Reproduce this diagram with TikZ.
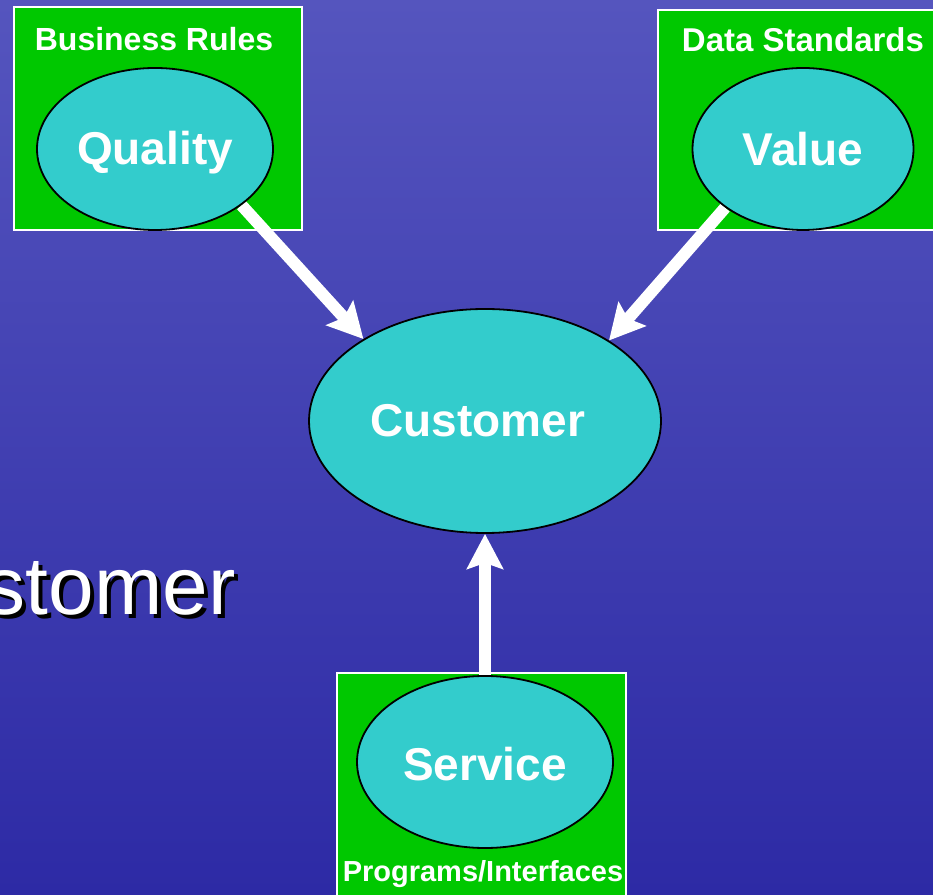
\documentclass[tikz,border=0pt]{standalone}
\usepackage{fontspec}
\setmainfont{Liberation Sans}
\usetikzlibrary{shapes.geometric,arrows.meta,backgrounds}

\definecolor{hgoben}{RGB}{85,85,190}
\definecolor{hgunten}{RGB}{45,42,165}
\definecolor{kastengruen}{RGB}{0,200,0}
\definecolor{blasetuerkis}{RGB}{51,204,204}

\tikzset{
    kasten/.style={fill=kastengruen, draw=white, line width=2pt},
    blase/.style={ellipse, fill=blasetuerkis, draw=black, line width=1.8pt, inner sep=0pt},
    wort/.style={text=white, anchor=base, font=\bfseries\fontsize{46}{50}\selectfont},
    titel/.style={text=white, anchor=base, font=\bfseries\fontsize{32}{36}\selectfont},
    pfeil/.style={draw=white, line width=12pt, -{Stealth[length=35pt, width=36pt, inset=6pt]}}
}

\begin{document}
\begin{tikzpicture}[x=1pt, y=1pt]
        \useasboundingbox (0,0) rectangle (933,894);
        \clip (0,0) rectangle (933,894);
        \coordinate (mitte) at (485,473);

        % Blasen
        \node [blase, minimum width=236pt, minimum height=162pt] (qualitaet) at ([xshift=-330pt,yshift=272pt]mitte) {};
        \node [blase, minimum width=221pt, minimum height=162pt] (wert) at ([xshift=318pt,yshift=272pt]mitte) {};
        \node [blase, minimum width=256pt, minimum height=172pt] (service) at ([yshift=-341pt]mitte) {};
        \node [blase, minimum width=352pt, minimum height=224pt] (kunde) at (mitte) {};

        \node [wort] (qualitaettext) at ([yshift=-16pt]qualitaet) {Quality};
        \node [wort] (werttext) at ([yshift=-17pt]wert) {Value};
        \node [wort] (servicetext) at ([yshift=-18pt]service) {Service};
        \node [wort] (kundetext) at ([xshift=-7pt,yshift=-16pt]kunde) {Customer};

        % Beschriftungen
        \node [titel] (regeln) at ([xshift=-1pt,yshift=98pt]qualitaet) {Business Rules};
        \node [titel, font=\bfseries\fontsize{33}{36}\selectfont] (standards) at ([yshift=97pt]wert) {Data Standards};
        \node [titel, font=\bfseries\fontsize{29}{32}\selectfont] (programme) at ([xshift=-2pt,yshift=-119pt]service) {Programs/Interfaces};

        % Rest vom Titel, links abgeschnitten
        \node [anchor=base east, text=black, font=\fontsize{82}{90}\selectfont] (schatten) at ([xshift=-242pt,yshift=-198pt]mitte) {stomer};
        \node [anchor=base east, text=white, font=\fontsize{82}{90}\selectfont] (titelrest) at ([xshift=-246pt,yshift=-194pt]mitte) {stomer};

        \begin{pgfonlayer}{background}
            \shade [top color=hgoben, bottom color=hgunten] (0,0) rectangle (933,894);
            % Kästen
            \draw [kasten] ([xshift=-471pt,yshift=191pt]mitte) rectangle ++(288pt,223pt);
            \draw [kasten] ([xshift=173pt,yshift=191pt]mitte) rectangle ++(290pt,220pt);
            \draw [kasten] ([xshift=-148pt,yshift=-479pt]mitte) rectangle ++(289pt,227pt);
            % Pfeile
            \draw [pfeil] (qualitaet.-33) -- (kunde.146);
            \draw [pfeil] (wert.-143) -- (kunde.33);
            \draw [pfeil] (service.north) -- (kunde.south);
        \end{pgfonlayer}
\end{tikzpicture}
\end{document}
